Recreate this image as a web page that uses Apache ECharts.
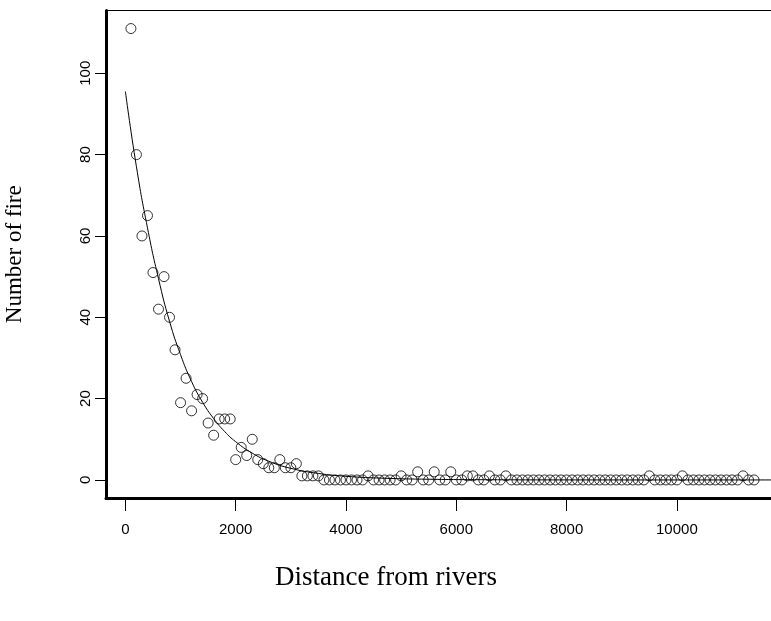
<!DOCTYPE html>
<html><head><meta charset="utf-8">
<script src="https://cdn.jsdelivr.net/npm/echarts@6.0.0/dist/echarts.min.js"></script>
<style>html,body{margin:0;padding:0;background:#fff}#c{width:771px;height:621px}</style>
</head><body><div id="c"></div>
<script>
// Observed points: distance from rivers vs number of fires
const distance = [100,200,300,400,500,600,700,800,900,1000,
  1100,1200,1300,1400,1500,1600,1700,1800,1900,2000,
  2100,2200,2300,2400,2500,2600,2700,2800,2900,3000,
  3100,3200,3300,3400,3500,3600,3700,3800,3900,4000,
  4100,4200,4300,4400,4500,4600,4700,4800,4900,5000,
  5100,5200,5300,5400,5500,5600,5700,5800,5900,6000,
  6100,6200,6300,6400,6500,6600,6700,6800,6900,7000,
  7100,7200,7300,7400,7500,7600,7700,7800,7900,8000,
  8100,8200,8300,8400,8500,8600,8700,8800,8900,9000,
  9100,9200,9300,9400,9500,9600,9700,9800,9900,10000,
  10100,10200,10300,10400,10500,10600,10700,10800,10900,11000,
  11100,11200,11300,11400];
const fires = [111,80,60,65,51,42,50,40,32,19,
  25,17,21,20,14,11,15,15,15,5,
  8,6,10,5,4,3,3,5,3,3,
  4,1,1,1,1,0,0,0,0,0,
  0,0,0,1,0,0,0,0,0,1,
  0,0,2,0,0,2,0,0,2,0,
  0,1,1,0,0,1,0,0,1,0,
  0,0,0,0,0,0,0,0,0,0,
  0,0,0,0,0,0,0,0,0,0,
  0,0,0,0,1,0,0,0,0,0,
  1,0,0,0,0,0,0,0,0,0,
  0,1,0,0];
// Fitted curve
const curveX = [0,200,400,600,800,1000,1200,1400,1600,1800,2000,2300,2600,3000,3500,4000,4700,5500,6500,8000,10000,11852];
const curveY = [95.5,77,62,49.5,39,30.8,24.2,19.1,15.1,11.9,9.4,6.6,4.6,2.85,1.6,0.9,0.42,0.17,0.06,0.01,0,0];
const xTicks = [0,2000,4000,6000,8000,10000];
const yTicks = [0,20,40,60,80,100];

const chart = echarts.init(document.getElementById('c'), null, {renderer:'canvas'});
const labelFont = 'Liberation Sans, Arial, sans-serif';
chart.setOption({
  animation: false,
  backgroundColor: '#fff',
  grid: {left: 106, top: 10.5, width: 673, height: 487.5, show: true, borderColor: '#000', borderWidth: 1,
         containLabel: false, outerBoundsMode: 'none'},
  xAxis: {
    type: 'value', min: -352, max: 11852,
    splitLine: {show: false},
    axisLine: {show: true, onZero: false, lineStyle: {color: '#000', width: 3}},
    axisTick: {show: true, customValues: xTicks, length: 13, lineStyle: {color: '#000', width: 1}},
    axisLabel: {customValues: xTicks, margin: 24, fontSize: 15, color: '#000', fontFamily: labelFont,
                formatter: v => String(v)}
  },
  yAxis: {
    type: 'value', min: -4.44, max: 115.44,
    name: 'Number of fire', nameLocation: 'middle', nameGap: 80, nameRotate: 90,
    nameTextStyle: {fontFamily: 'Liberation Serif, serif', fontSize: 23, color: '#000'},
    splitLine: {show: false},
    axisLine: {show: true, onZero: false, lineStyle: {color: '#000', width: 3}},
    axisTick: {show: true, customValues: yTicks, length: 11, lineStyle: {color: '#000', width: 1}},
    axisLabel: {customValues: yTicks, rotate: 90, margin: 13, fontSize: 15, color: '#000', fontFamily: labelFont,
                formatter: v => String(v)}
  },
  graphic: [{
    type: 'text', x: 386, y: 578,
    style: {text: 'Distance from rivers', font: '27px "Liberation Serif", serif', fill: '#000', align: 'center', verticalAlign: 'middle'}
  }],
  series: [
    {type: 'line', data: curveX.map((x, i) => [x, curveY[i]]), smooth: 0.5, showSymbol: false, symbol: 'none',
     lineStyle: {color: '#000', width: 1}, z: 2, silent: true},
    {type: 'scatter', data: distance.map((x, i) => [x, fires[i]]), symbol: 'circle', symbolSize: 10,
     itemStyle: {color: 'rgba(0,0,0,0)', borderColor: '#000', borderWidth: 1}, z: 3}
  ]
});
</script></body></html>
